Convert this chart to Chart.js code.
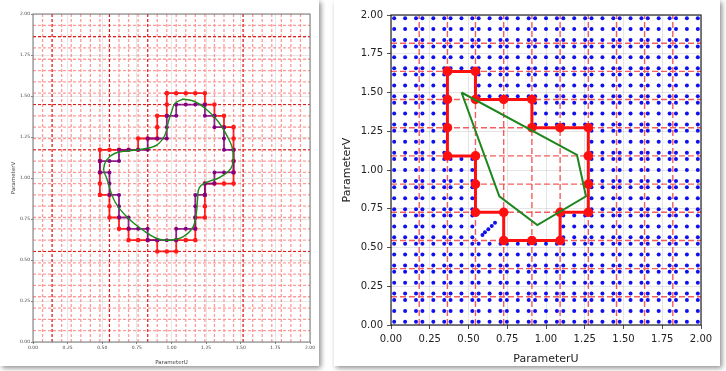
<!DOCTYPE html>
<html>
<head>
<meta charset="utf-8">
<script src="https://cdn.jsdelivr.net/npm/chart.js@4.4.1/dist/chart.umd.min.js"></script>
<style>
    html, body { margin: 0; padding: 0; background: #fff; width: 726px; height: 371px; overflow: hidden; }
    .card { position: absolute; background: #fff; box-shadow: 2px 2px 5px rgba(0, 0, 0, 0.45); }
    #cardL { left: 0; top: 0; width: 319px; height: 366px; }
    #cardR { left: 334px; top: 0; width: 386px; height: 366px; }
    canvas { display: block; }
</style>
</head>
<body>
<div class="card" id="cardL"><canvas id="leftChart" width="319" height="366"></canvas></div>
<div class="card" id="cardR"><canvas id="rightChart" width="386" height="366"></canvas></div>
<script>
/* ---------- shared ---------- */
const tickVals = [0, 0.25, 0.5, 0.75, 1.0, 1.25, 1.5, 1.75, 2.0];

/* ---------- left panel: fine knot grid (29 cells) ---------- */
const knotsL = [0, 0.069, 0.138, 0.207, 0.276, 0.345, 0.414, 0.483, 0.552, 0.621,
    0.690, 0.759, 0.828, 0.897, 0.966, 1.034, 1.103, 1.172, 1.241, 1.310,
    1.379, 1.448, 1.517, 1.586, 1.655, 1.724, 1.793, 1.862, 1.931, 2.0];
const darkU = [0.138, 0.552, 0.828, 1.517];
const darkV = [0.552, 1.172, 1.448, 1.862];

// outer (red) and inner (purple) staircases, as knot indices [i, j]
const outerIdx = [[14,22],[15,22],[16,22],[17,22],[18,22],[18,21],[19,21],[19,20],[20,20],[20,19],
    [21,19],[21,18],[21,17],[21,16],[21,15],[21,14],[20,14],[19,14],[18,14],[18,13],[18,12],[18,11],
    [17,11],[17,10],[17,9],[16,9],[15,9],[15,8],[14,8],[13,8],[13,9],[12,9],[11,9],[10,9],[10,10],
    [9,10],[9,11],[8,11],[8,12],[8,13],[7,13],[7,14],[7,15],[7,16],[7,17],[8,17],[9,17],[10,17],
    [11,17],[11,18],[12,18],[13,18],[13,19],[13,20],[14,20],[14,21],[14,22]];
const innerIdx = [[15,21],[16,21],[17,21],[18,21],[18,20],[19,20],[19,19],[20,19],[20,18],[20,17],
    [21,17],[21,16],[21,15],[20,15],[19,15],[19,14],[18,14],[18,13],[17,13],[17,12],[17,11],[17,10],
    [16,10],[15,10],[15,9],[14,9],[13,9],[12,9],[12,10],[11,10],[10,10],[10,11],[9,11],[9,12],[9,13],
    [8,13],[8,14],[8,15],[7,15],[7,16],[8,16],[9,16],[9,17],[10,17],[11,17],[12,17],[12,18],[13,18],
    [14,18],[14,19],[14,20],[15,20],[15,21]];

// fitted closed curve
const curveU = [1.085, 1.17, 1.242, 1.338, 1.41, 1.446, 1.44, 1.41, 1.34, 1.25, 1.2, 1.188, 1.18,
    1.157, 1.085, 1.001, 0.905, 0.809, 0.688, 0.592, 0.532, 0.51, 0.532, 0.592, 0.688, 0.785,
    0.893, 0.953, 0.977, 1.001, 1.025, 1.085];
const curveV = [1.482, 1.465, 1.425, 1.343, 1.242, 1.16, 1.08, 1.04, 1.0, 0.972, 0.94, 0.87, 0.79,
    0.703, 0.642, 0.622, 0.628, 0.673, 0.754, 0.855, 0.998, 1.055, 1.110, 1.151, 1.165, 1.175,
    1.201, 1.262, 1.343, 1.404, 1.455, 1.482];

/* ---------- right panel: coarse knot grid (11 cells) ---------- */
const knotsR = [0, 0.182, 0.364, 0.545, 0.727, 0.909, 1.091, 1.273, 1.455, 1.636, 1.818, 2.0];
const gaussPts = [0.113, 0.5, 0.887];
// cells without regular sample points (inside the domain, plus the cut cell)
const emptyCells = [[2,6],[2,7],[2,8],[3,3],[3,4],[3,5],[3,6],[3,7],[4,3],[4,4],[4,5],[4,6],[4,7],
    [5,3],[5,4],[5,5],[5,6],[6,4],[6,5],[6,6]];
const cutU = [0.59, 0.606, 0.628, 0.650, 0.671];
const cutV = [0.58, 0.598, 0.617, 0.639, 0.660];

const polyU = [0.364, 0.545, 0.545, 0.727, 0.909, 0.909, 1.091, 1.273, 1.273, 1.273, 1.273, 1.091,
    1.091, 0.909, 0.727, 0.727, 0.545, 0.545, 0.545, 0.364, 0.364, 0.364, 0.364];
const polyV = [1.636, 1.636, 1.455, 1.455, 1.455, 1.273, 1.273, 1.273, 1.091, 0.909, 0.727, 0.727,
    0.545, 0.545, 0.545, 0.727, 0.727, 0.909, 1.091, 1.091, 1.273, 1.455, 1.636];

const hullU = [0.455, 1.20, 1.258, 0.944, 0.699, 0.455];
const hullV = [1.50, 1.097, 0.83, 0.645, 0.83, 1.50];

/* ---------- helpers ---------- */
const toPts = (us, vs) => us.map((u, k) => ({ x: u, y: vs[k] }));
const idxPts = idx => idx.map(([i, j]) => ({ x: knotsL[i], y: knotsL[j] }));

// vertical + horizontal lines at given values, separated by gaps
function gridSegs(us, vs) {
    const pts = [];
    us.forEach(c => pts.push({ x: c, y: 0 }, { x: c, y: 2 }, { x: c, y: null }));
    vs.forEach(c => pts.push({ x: 0, y: c }, { x: 2, y: c }, { x: 2, y: null }));
    return pts;
}

function samplePoints() {
    const pts = [];
    for (let a = 0; a < knotsR.length - 1; a++) {
        for (let b = 0; b < knotsR.length - 1; b++) {
            if (emptyCells.some(c => c[0] === a && c[1] === b)) continue;
            const du = knotsR[a + 1] - knotsR[a];
            const dv = knotsR[b + 1] - knotsR[b];
            gaussPts.forEach(gu => gaussPts.forEach(gv => {
                pts.push({ x: knotsR[a] + gu * du, y: knotsR[b] + gv * dv });
            }));
        }
    }
    return pts.concat(toPts(cutU, cutV));
}

const frame = {
    id: 'frame',
    afterDatasetsDraw(chart, args, opts) {
        const { ctx, chartArea: a } = chart;
        ctx.save();
        ctx.strokeStyle = opts.color;
        ctx.lineWidth = opts.width;
        ctx.strokeRect(a.left, a.top, a.right - a.left, a.bottom - a.top);
        ctx.restore();
    }
};

function axis(opts) {
    return {
        type: 'linear',
        min: 0,
        max: 2,
        afterBuildTicks: s => { s.ticks = tickVals.map(v => ({ value: v })); },
        afterFit: s => { if (opts.horizontal) s.height = opts.size; else s.width = opts.size; },
        border: { display: false },
        grid: {
            color: opts.gridColor,
            lineWidth: 0.8,
            tickColor: opts.tickColor,
            tickLength: opts.tickLen
        },
        ticks: {
            color: opts.textColor,
            padding: opts.tickPad,
            maxRotation: 0,
            font: { family: 'DejaVu Sans', size: opts.tickFont },
            callback: v => Number(v).toFixed(2)
        },
        title: {
            display: true,
            text: opts.title,
            color: opts.textColor,
            padding: { top: opts.titlePad, bottom: 0 },
            font: { family: 'DejaVu Sans', size: opts.titleFont }
        }
    };
}

Chart.defaults.animation = false;

/* ---------- left chart ---------- */
new Chart(document.getElementById('leftChart'), {
    type: 'scatter',
    data: {
        datasets: [
            {
                data: gridSegs(knotsL.slice(1, -1), knotsL.slice(1, -1)),
                showLine: true, pointRadius: 0, spanGaps: false,
                borderColor: 'rgba(255, 30, 30, 0.45)', borderWidth: 1.3, borderDash: [3, 2],
                order: 6
            },
            {
                data: gridSegs(darkU, darkV),
                showLine: true, pointRadius: 0, spanGaps: false,
                borderColor: 'rgba(215, 0, 0, 0.8)', borderWidth: 1.1, borderDash: [3, 2],
                order: 5
            },
            {
                data: idxPts(outerIdx),
                showLine: true,
                borderColor: 'rgba(255, 0, 0, 0.85)', borderWidth: 1.8,
                pointRadius: 2.3, pointBackgroundColor: '#ff1a1a', pointBorderWidth: 0,
                order: 3
            },
            {
                data: idxPts(innerIdx),
                showLine: true,
                borderColor: 'rgba(128, 0, 128, 0.85)', borderWidth: 1.8,
                pointRadius: 2, pointBackgroundColor: '#800080', pointBorderWidth: 0,
                order: 2
            },
            {
                data: toPts(curveU, curveV),
                showLine: true, tension: 0.4,
                borderColor: '#1a8a1a', borderWidth: 1.4, pointRadius: 0,
                order: 1
            }
        ]
    },
    options: {
        responsive: false,
        events: [],
        layout: { padding: { left: 0, top: 14, right: 9, bottom: 0 } },
        plugins: {
            legend: { display: false },
            tooltip: { enabled: false },
            frame: { color: '#777', width: 1 }
        },
        scales: {
            x: axis({ horizontal: true, size: 24, title: 'ParameterU', textColor: '#444',
                gridColor: 'rgba(0,0,0,0.12)', tickColor: '#666', tickLen: 2, tickPad: 1,
                tickFont: 4.5, titleFont: 5.5, titlePad: 9 }),
            y: axis({ horizontal: false, size: 33, title: 'ParameterV', textColor: '#444',
                gridColor: 'rgba(0,0,0,0.12)', tickColor: '#666', tickLen: 2, tickPad: 1,
                tickFont: 4.5, titleFont: 5.5, titlePad: 10 })
        }
    },
    plugins: [frame]
});

/* ---------- right chart ---------- */
new Chart(document.getElementById('rightChart'), {
    type: 'scatter',
    data: {
        datasets: [
            {
                data: gridSegs(knotsR.slice(1, -1), knotsR.slice(1, -1)),
                showLine: true, pointRadius: 0, spanGaps: false,
                borderColor: 'rgba(240, 40, 40, 0.75)', borderWidth: 1.4, borderDash: [6, 3],
                order: 5
            },
            {
                data: samplePoints(),
                pointRadius: 2, pointBackgroundColor: '#1010ee', pointBorderWidth: 0,
                order: 4
            },
            {
                data: toPts(polyU, polyV),
                showLine: true,
                borderColor: '#ff1010', borderWidth: 3,
                pointRadius: 4.8, pointBackgroundColor: '#ff1010', pointBorderWidth: 0,
                order: 2
            },
            {
                data: toPts(hullU, hullV),
                showLine: true, tension: 0,
                borderColor: '#1f861f', borderWidth: 2, pointRadius: 0,
                order: 1
            }
        ]
    },
    options: {
        responsive: false,
        events: [],
        layout: { padding: { left: 0, top: 15, right: 19, bottom: 0 } },
        plugins: {
            legend: { display: false },
            tooltip: { enabled: false },
            frame: { color: '#222', width: 1.2 }
        },
        scales: {
            x: axis({ horizontal: true, size: 41, title: 'ParameterU', textColor: '#222',
                gridColor: 'rgba(0,0,0,0.13)', tickColor: '#222', tickLen: 4, tickPad: 4,
                tickFont: 10, titleFont: 11, titlePad: 4 }),
            y: axis({ horizontal: false, size: 57, title: 'ParameterV', textColor: '#222',
                gridColor: 'rgba(0,0,0,0.13)', tickColor: '#222', tickLen: 4, tickPad: 4,
                tickFont: 10, titleFont: 11, titlePad: 7 })
        }
    },
    plugins: [frame]
});
</script>
</body>
</html>
